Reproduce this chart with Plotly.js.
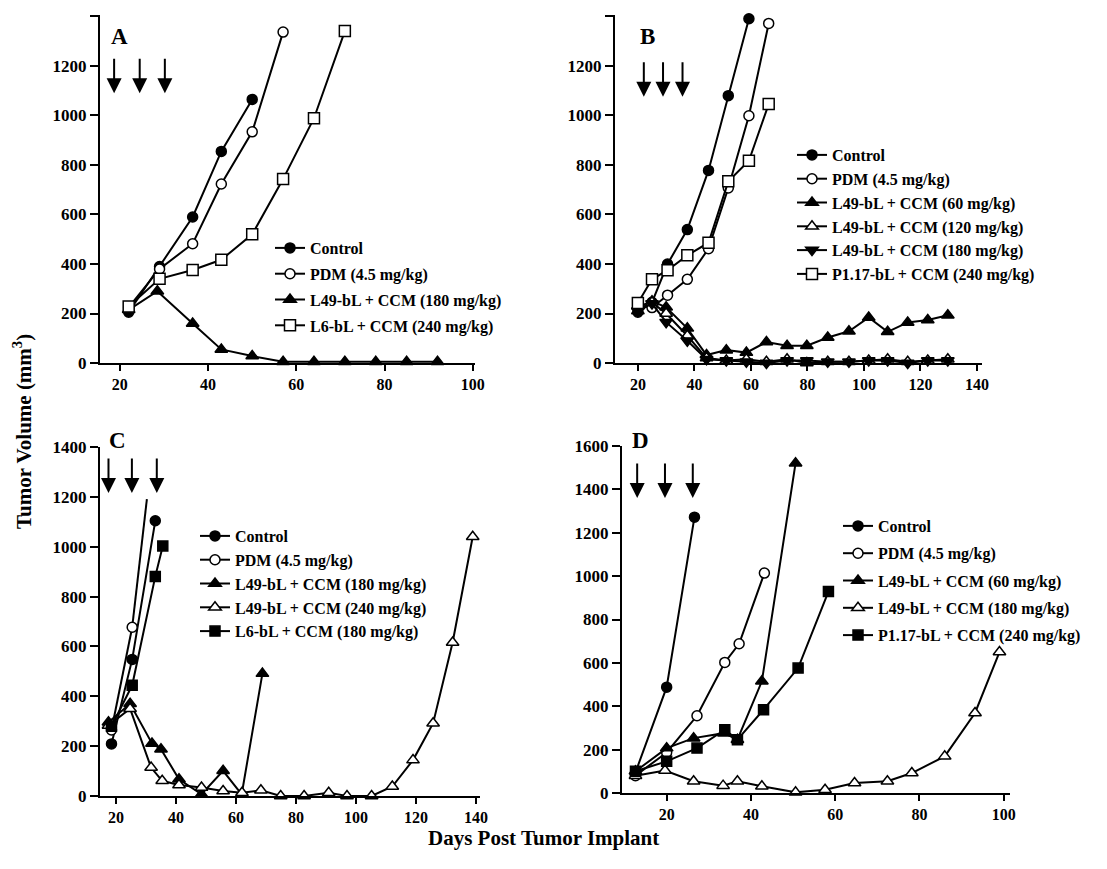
<!DOCTYPE html>
<html><head><meta charset="utf-8">
<script src="https://cdn.plot.ly/plotly-3.0.1.min.js"></script>
<style>html,body{margin:0;padding:0;background:#fff}</style>
</head><body><div id="chart" style="width:1107px;height:869px"></div>
<script>
// ---------- Panel A ----------
const aCtrlDays = [22, 29, 36.5, 43, 50];
const aCtrlVol  = [205, 390, 590, 855, 1065];
const aPdmDays  = [22, 29, 36.5, 43, 50, 57];
const aPdmVol   = [225, 380, 482, 723, 934, 1337];
const aL49Days  = [22, 28.5, 36.5, 43, 50, 57, 64, 71, 78, 85, 92];
const aL49Vol   = [215, 290, 160, 55, 28, 5, 5, 5, 5, 5, 5];
const aL6Days   = [22, 29, 36.5, 43, 50, 57, 64, 71];
const aL6Vol    = [228, 340, 376, 417, 520, 743, 989, 1341];
const aDoseDays = [18.7, 24.5, 30.2];
const aArrowTip = 1090;

// ---------- Panel B ----------
const bGrowDays = [20, 25, 30.5, 37.5, 45, 52, 59.3, 66.3];
const bCtrlVol  = [205, 245, 400, 539, 778, 1080, 1391];
const bPdmVol   = [232, 224, 274, 338, 462, 707, 999, 1372];
const bP117Vol  = [242, 338, 375, 435, 486, 734, 817, 1046];
const bTriDays  = [20, 25, 30, 37.5, 44.3, 51.3, 58.4, 65.5, 72.8, 79.8, 87.2, 94.7, 101.7, 108.4, 115.5, 122.6, 129.7];
const bL49_60   = [210, 250, 225, 140, 32, 52, 42, 85, 70, 70, 103, 128, 184, 126, 164, 174, 193];
const bL49_120  = [230, 245, 200, 110, 20, 10, 15, 5, 15, 0, 5, 5, 10, 15, 5, 10, 15];
const bL49_180  = [210, 240, 165, 90, 15, 10, 5, 0, 10, 10, 5, 5, 10, 10, 0, 10, 10];
const bDoseDays = [22.1, 28.9, 35.8];
const bArrowTip = 1076;

// ---------- Panel C ----------
const cCtrlDays = [18.5, 25.4, 33.1];
const cCtrlVol  = [209, 548, 1104];
const cPdmDays  = [18.5, 25.4, 30.3];
const cPdmVol   = [265, 677, 1191];
const cL6Days   = [18.5, 25.4, 33.1, 35.6];
const cL6Vol    = [280, 444, 881, 1003];
const cL49aDays = [17.5, 24.7, 32, 35, 41, 48.5, 55.7, 61.9, 68.8];
const cL49aVol  = [296, 370, 211, 188, 67, 7, 101, 7, 491];
const cL49bDays = [17.5, 24.7, 31.7, 35.4, 41, 48.5, 55.7, 62, 68.3, 74.9, 82.7, 90.9, 97, 105.2, 112.1, 119, 125.7, 132.2, 138.9];
const cL49bVol  = [283, 350, 114, 61, 44, 34, 20, 13, 23, 0, 0, 13, 0, 0, 38, 144, 292, 616, 1040];
const cDoseDays = [17.5, 25.3, 33.6];
const cArrowTip = 1215;

// ---------- Panel D ----------
const dCtrlDays = [12.6, 20, 26.6];
const dCtrlVol  = [95, 488, 1272];
const dPdmDays  = [12.6, 20, 27.2, 33.8, 37.2, 43.2];
const dPdmVol   = [80, 187, 356, 602, 688, 1014];
const dL49aDays = [12.6, 20, 26.4, 33.6, 36.8, 42.6, 50.6];
const dL49aVol  = [100, 207, 253, 276, 246, 515, 1521];
const dL49bDays = [12.6, 19.6, 26.4, 33.4, 36.8, 42.6, 50.6, 57.6, 64.6, 72.4, 78.2, 86, 93.2, 99];
const dL49bVol  = [80, 104, 54, 34, 54, 31, 3, 15, 46, 54, 92, 169, 369, 650];
const dP117Days = [12.6, 20, 27.2, 33.8, 36.8, 43, 51.2, 58.4];
const dP117Vol  = [100, 146, 207, 292, 246, 384, 576, 929];
const dDoseDays = [13, 19.6, 26.2];
const dArrowTip = 1360;

// ---------- styling ----------
const FONT = 'Liberation Serif, Times New Roman, serif';
const MK = {
  filledCircle: {symbol: 'circle', color: '#000', size: 10},
  openCircle:   {symbol: 'circle', color: '#fff', size: 10},
  filledTri:    {symbol: 'triangle-up', color: '#000', size: 11},
  openTri:      {symbol: 'triangle-up', color: '#fff', size: 11},
  downTri:      {symbol: 'triangle-down', color: '#000', size: 11},
  openSquare:   {symbol: 'square', color: '#fff', size: 11},
  filledSquare: {symbol: 'square', color: '#000', size: 10}
};
let gid = 0;
function tr(x, y, name, mk, ax, legend, mode) {
  gid++;
  return {
    type: 'scatter', mode: mode || 'lines+markers', x: x, y: y, name: name,
    xaxis: 'x' + ax, yaxis: 'y' + ax, legend: legend, legendgroup: 'g' + gid,
    showlegend: !mode,
    line: {color: '#000', width: 2},
    marker: {symbol: mk.symbol, color: mk.color, size: mk.size, line: {color: '#000', width: 1.5}},
    cliponaxis: false
  };
}
const data = [
  tr(aCtrlDays, aCtrlVol, 'Control', MK.filledCircle, '', 'legend'),
  tr(aPdmDays, aPdmVol, 'PDM (4.5 mg/kg)', MK.openCircle, '', 'legend'),
  tr(aL49Days, aL49Vol, 'L49-bL + CCM (180 mg/kg)', MK.filledTri, '', 'legend'),
  tr(aL6Days, aL6Vol, 'L6-bL + CCM (240 mg/kg)', MK.openSquare, '', 'legend'),

  tr(bGrowDays.slice(0, bCtrlVol.length), bCtrlVol, 'Control', MK.filledCircle, '2', 'legend2'),
  tr(bGrowDays, bPdmVol, 'PDM (4.5 mg/kg)', MK.openCircle, '2', 'legend2'),
  tr(bTriDays, bL49_60, 'L49-bL + CCM (60 mg/kg)', MK.filledTri, '2', 'legend2'),
  tr(bTriDays, bL49_120, 'L49-bL + CCM (120 mg/kg)', MK.openTri, '2', 'legend2'),
  tr(bTriDays, bL49_180, 'L49-bL + CCM (180 mg/kg)', MK.downTri, '2', 'legend2'),
  tr(bGrowDays, bP117Vol, 'P1.17-bL + CCM (240 mg/kg)', MK.openSquare, '2', 'legend2'),

  tr(cCtrlDays, cCtrlVol, 'Control', MK.filledCircle, '3', 'legend3'),
  // last PDM segment in panel C is drawn without a marker, as in the original
  tr(cPdmDays.slice(1), cPdmVol.slice(1), 'PDM (4.5 mg/kg)', MK.openCircle, '3', 'legend3', 'lines'),
  tr(cPdmDays.slice(0, 2), cPdmVol.slice(0, 2), 'PDM (4.5 mg/kg)', MK.openCircle, '3', 'legend3'),
  tr(cL49aDays, cL49aVol, 'L49-bL + CCM (180 mg/kg)', MK.filledTri, '3', 'legend3'),
  tr(cL49bDays, cL49bVol, 'L49-bL + CCM (240 mg/kg)', MK.openTri, '3', 'legend3'),
  tr(cL6Days, cL6Vol, 'L6-bL + CCM (180 mg/kg)', MK.filledSquare, '3', 'legend3'),

  tr(dCtrlDays, dCtrlVol, 'Control', MK.filledCircle, '4', 'legend4'),
  tr(dPdmDays, dPdmVol, 'PDM (4.5 mg/kg)', MK.openCircle, '4', 'legend4'),
  tr(dL49aDays, dL49aVol, 'L49-bL + CCM (60 mg/kg)', MK.filledTri, '4', 'legend4'),
  tr(dL49bDays, dL49bVol, 'L49-bL + CCM (180 mg/kg)', MK.openTri, '4', 'legend4'),
  tr(dP117Days, dP117Vol, 'P1.17-bL + CCM (240 mg/kg)', MK.filledSquare, '4', 'legend4')
];

const W = 1107, H = 869;
const px = v => v / W;
const py = v => 1 - v / H;
const xTickFont = {family: FONT, size: 16, color: '#000', weight: 700};
const yTickFont = {family: FONT, size: 17, color: '#000', weight: 700};
function xAx(d0, d1, range, anchor, vals) {
  return {domain: [px(d0), px(d1)], range: range, anchor: anchor, tickvals: vals,
    showline: true, linecolor: '#000', linewidth: 2, ticks: 'outside', ticklen: 6, tickwidth: 2,
    tickcolor: '#000', showgrid: false, zeroline: false, tickfont: xTickFont, fixedrange: true};
}
function yAx(top, bottom, range, anchor, vals, texts) {
  return {domain: [py(bottom), py(top)], range: range, anchor: anchor, tickvals: vals, ticktext: texts,
    showline: true, linecolor: '#000', linewidth: 2, ticks: 'outside', ticklen: 8, tickwidth: 2,
    tickcolor: '#000', showgrid: false, zeroline: false, tickfont: yTickFont, fixedrange: true};
}
const yv14 = [0, 200, 400, 600, 800, 1000, 1200, 1400];
const legFont = {family: FONT, size: 16, color: '#000', weight: 700};
function leg(x, top, gap) {
  return {x: px(x), y: py(top), xanchor: 'left', yanchor: 'top', font: legFont,
    bgcolor: 'rgba(0,0,0,0)', borderwidth: 0, tracegroupgap: gap, itemclick: false};
}
const ann = [];
function arrows(days, tip, ax) {
  days.forEach(d => ann.push({x: d, y: tip, xref: 'x' + ax, yref: 'y' + ax, text: '', showarrow: true,
    ax: 0, ay: -36, arrowhead: 2, arrowsize: 1.5, arrowwidth: 2, arrowcolor: '#000', standoff: 0}));
}
arrows(aDoseDays, aArrowTip, '');
arrows(bDoseDays, bArrowTip, '2');
arrows(cDoseDays, cArrowTip, '3');
arrows(dDoseDays, dArrowTip, '4');
function label(t, x, y) {
  ann.push({text: t, x: px(x), y: py(y), xref: 'paper', yref: 'paper', showarrow: false,
    xanchor: 'center', yanchor: 'middle', font: {family: FONT, size: 23, color: '#000', weight: 700}});
}
label('A', 119, 37); label('B', 647, 37); label('C', 117, 440); label('D', 640, 440);
ann.push({text: 'Tumor Volume (mm<sup>3</sup>)', x: px(22), y: py(432), xref: 'paper', yref: 'paper',
  showarrow: false, textangle: -90, xanchor: 'center', yanchor: 'middle',
  font: {family: FONT, size: 21, color: '#000', weight: 700}});
ann.push({text: 'Days Post Tumor Implant', x: px(543), y: py(838), xref: 'paper', yref: 'paper',
  showarrow: false, xanchor: 'center', yanchor: 'middle',
  font: {family: FONT, size: 21, color: '#000', weight: 700}});

const layout = {
  width: W, height: H, margin: {l: 0, r: 0, t: 0, b: 0},
  paper_bgcolor: '#fff', plot_bgcolor: '#fff', font: {family: FONT, color: '#000'},
  xaxis:  xAx(100, 475, [15.5, 100.5], 'y', [20, 40, 60, 80, 100]),
  yaxis:  yAx(15, 363, [0, 1406], 'x', yv14, ['0', '200', '400', '600', '800', '1000', '1200', '']),
  xaxis2: xAx(615, 982, [11.9, 141.8], 'y2', [20, 40, 60, 80, 100, 120, 140]),
  yaxis2: yAx(15, 363, [0, 1406], 'x2', yv14, ['0', '200', '400', '600', '800', '1000', '1200', '']),
  xaxis3: xAx(100, 480, [14.67, 141.33], 'y3', [20, 40, 60, 80, 100, 120, 140]),
  yaxis3: yAx(447, 796, [0, 1400], 'x3', yv14),
  xaxis4: xAx(622, 1010, [9.4, 101.5], 'y4', [20, 40, 60, 80, 100]),
  yaxis4: yAx(446, 793, [0, 1600], 'x4', [0, 200, 400, 600, 800, 1000, 1200, 1400, 1600]),
  legend:  leg(270, 231, 2),
  legend2: leg(792, 138, 0),
  legend3: leg(195, 519, 0),
  legend4: leg(838, 509, 3.5),
  annotations: ann,
  showlegend: true
};
Plotly.newPlot('chart', data, layout, {staticPlot: true, displayModeBar: false});
</script></body></html>
